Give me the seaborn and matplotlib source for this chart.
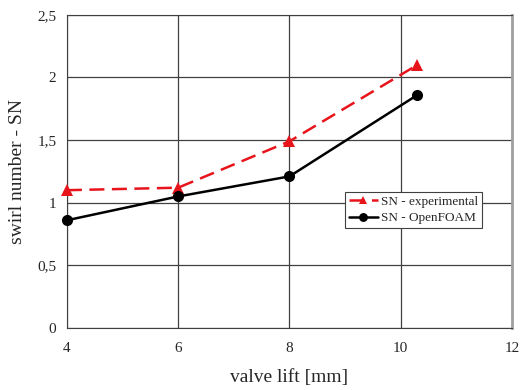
# librerías
import pandas as pd
import seaborn as sns
import matplotlib.pyplot as plt
from matplotlib.ticker import FuncFormatter

# datos
valve_lift = [4, 6, 8, 10.3]
sn_experimental = [1.10, 1.12, 1.49, 2.10]
sn_openfoam = [0.86, 1.05, 1.21, 1.86]

df = pd.DataFrame({
    'valve lift': valve_lift * 2,
    'SN': sn_experimental + sn_openfoam,
    'serie': ['SN - experimental'] * 4 + ['SN - OpenFOAM'] * 4,
})

sns.set_style("white")
plt.rcParams['font.family'] = ['Liberation Serif', 'DejaVu Serif']

fig = plt.figure(figsize=(5.31, 3.9), dpi=100)
ax = fig.add_axes([0.126, 0.159, 0.838, 0.803])

sns.lineplot(
    data=df, x='valve lift', y='SN', hue='serie', style='serie',
    palette={'SN - experimental': '#e8141c', 'SN - OpenFOAM': 'black'},
    markers={'SN - experimental': '^', 'SN - OpenFOAM': 'o'},
    dashes={'SN - experimental': (6, 3), 'SN - OpenFOAM': ''},
    markersize=8, markeredgewidth=0, linewidth=1.8, ax=ax,
)
for line in ax.lines:
    line.set_clip_on(False)
    line.set_zorder(5)

# ejes y rejilla
ax.set_xlim(4, 12)
ax.set_ylim(0, 2.5)
ax.set_xticks([4, 6, 8, 10, 12])
ax.set_yticks([0, 0.5, 1, 1.5, 2, 2.5])
ax.yaxis.set_major_formatter(FuncFormatter(lambda v, p: f"{v:g}".replace('.', ',')))
ax.grid(True, color='#404040', linewidth=0.9)
ax.tick_params(axis='both', labelsize=11, length=4, direction='out', color='#404040')
ax.tick_params(axis='x', pad=6)
for side in ['left', 'bottom', 'top']:
    ax.spines[side].set_color('#404040')
ax.spines['right'].set_color('#a0a0a0')
ax.spines['right'].set_linewidth(2)

ax.set_xlabel('valve lift [mm]', fontsize=14, labelpad=10)
ax.set_ylabel('swirl number - SN', fontsize=14, labelpad=8)

leg = ax.legend(loc='upper left', bbox_to_anchor=(0.625, 0.435), fontsize=9.5,
                frameon=True, fancybox=False, framealpha=1, edgecolor='#404040',
                handlelength=2.2, handletextpad=0.2, borderpad=0.3, labelspacing=0.3,
                borderaxespad=0, markerscale=0.8)
leg.get_frame().set_linewidth(0.8)

plt.savefig('out.png', dpi=100)
